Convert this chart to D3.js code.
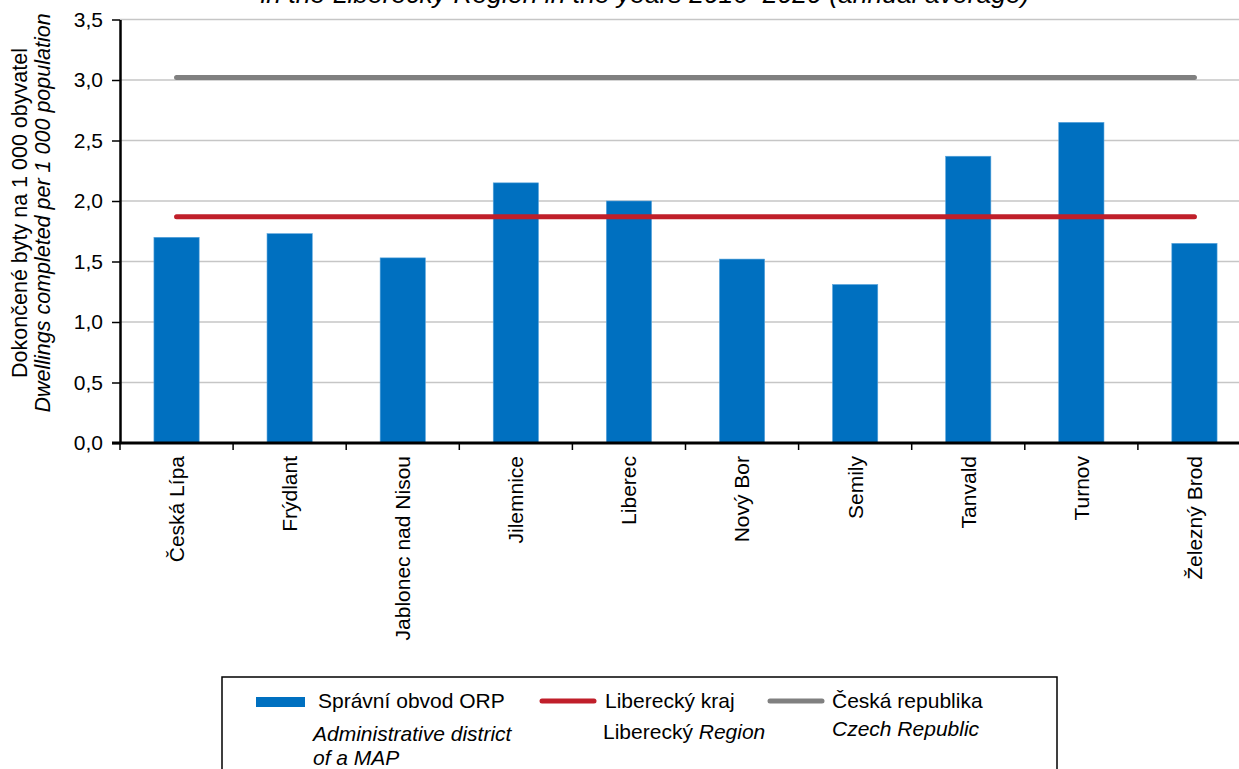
<!DOCTYPE html>
<html>
<head>
<meta charset="utf-8">
<script src="https://cdn.jsdelivr.net/npm/d3@7"></script>
<style>
  body { margin: 0; background: #fff; }
  svg { display: block; font-family: 'Liberation Sans', Arial, sans-serif; }
</style>
</head>
<body>
<div id="chart"></div>
<script>
// Data
const districts = ['Česká Lípa', 'Frýdlant', 'Jablonec nad Nisou', 'Jilemnice', 'Liberec',
  'Nový Bor', 'Semily', 'Tanvald', 'Turnov', 'Železný Brod'];
const dwellings = [1.70, 1.73, 1.53, 2.15, 2.00, 1.52, 1.31, 2.37, 2.65, 1.65];
const regionAvg = 1.87;
const czechAvg = 3.02;
const yTicks = [0, 0.5, 1, 1.5, 2, 2.5, 3, 3.5];

const width = 1239;
const height = 769;
const marginLeft = 120;
const marginTop = 19.5;
const plotBottom = 443;
const stepW = 113.1;

const svg = d3.select('#chart')
  .append('svg')
  .attr('width', width)
  .attr('height', height)
  .attr('viewBox', [0, 0, width, height]);

// Scales
const x = d3.scaleBand()
  .domain(districts)
  .range([marginLeft, marginLeft + stepW * districts.length])
  .paddingInner(0.6)
  .paddingOuter(0.3);

const y = d3.scaleLinear()
  .domain([0, 3.5])
  .range([plotBottom, marginTop]);

const fmt = (v) => d3.format('.1f')(v).replace('.', ',');

// Title (cut off at the top in the original)
svg.append('text')
  .attr('x', 645)
  .attr('y', 3)
  .attr('text-anchor', 'middle')
  .style('font-size', '26.5px')
  .style('font-style', 'italic')
  .text('in the Liberecký Region in the years 2016–2020 (annual average)');

// Gridlines
svg.append('g')
  .selectAll('line')
  .data(yTicks.filter((d) => d > 0))
  .join('line')
  .attr('x1', marginLeft)
  .attr('x2', width)
  .attr('y1', (d) => y(d))
  .attr('y2', (d) => y(d))
  .attr('stroke', '#c6c6c6')
  .attr('stroke-width', 1.5);

// Bars
svg.append('g')
  .selectAll('rect')
  .data(districts)
  .join('rect')
  .attr('x', (d) => x(d))
  .attr('y', (d, i) => y(dwellings[i]))
  .attr('width', x.bandwidth())
  .attr('height', (d, i) => y(0) - y(dwellings[i]))
  .attr('fill', '#0070c0')
  .attr('stroke', '#5aa5dc')
  .attr('stroke-width', 0.6);

// Reference lines
const firstC = x(districts[0]) + x.bandwidth() / 2;
const lastC = x(districts[districts.length - 1]) + x.bandwidth() / 2;
[[czechAvg, '#808080'], [regionAvg, '#c01f2a']].forEach(([v, c]) => {
  svg.append('line')
    .attr('x1', firstC)
    .attr('x2', lastC)
    .attr('y1', y(v))
    .attr('y2', y(v))
    .attr('stroke', c)
    .attr('stroke-width', 5)
    .attr('stroke-linecap', 'round');
});

// Y axis
const yAxis = svg.append('g')
  .attr('transform', 'translate(' + marginLeft + ',0)')
  .call(d3.axisLeft(y).tickValues(yTicks).tickFormat(fmt).tickSize(8).tickSizeOuter(0));
yAxis.select('.domain').attr('stroke', '#000').attr('stroke-width', 2.5);
yAxis.selectAll('.tick line').attr('stroke', '#000').attr('stroke-width', 1.5);
yAxis.selectAll('.tick text')
  .attr('x', -17)
  .style('font-size', '21px')
  .style('font-family', "'Liberation Sans', Arial, sans-serif")
  .attr('fill', '#000');

// X axis
const boundaries = districts.map((d) => x(d) + x.bandwidth() / 2 - x.step() / 2);
boundaries.push(boundaries[boundaries.length - 1] + x.step());
svg.append('line')
  .attr('x1', marginLeft - 8)
  .attr('x2', width)
  .attr('y1', plotBottom)
  .attr('y2', plotBottom)
  .attr('stroke', '#000')
  .attr('stroke-width', 3);
svg.append('g')
  .selectAll('line')
  .data(boundaries)
  .join('line')
  .attr('x1', (d) => d)
  .attr('x2', (d) => d)
  .attr('y1', plotBottom)
  .attr('y2', plotBottom + 7)
  .attr('stroke', '#000')
  .attr('stroke-width', 1.5);

svg.append('g')
  .selectAll('text')
  .data(districts)
  .join('text')
  .attr('transform', (d) => 'translate(' + (x(d) + x.bandwidth() / 2) + ',' + (plotBottom + 13) + ') rotate(-90)')
  .attr('text-anchor', 'end')
  .attr('dy', '0.35em')
  .style('font-size', '21px')
  .text((d) => d);

// Y axis title
const yTitle = svg.append('text')
  .attr('transform', 'translate(0,213) rotate(-90)')
  .attr('text-anchor', 'middle')
  .style('font-size', '21.5px');
yTitle.append('tspan').attr('x', 0).attr('y', 27).text('Dokončené byty na 1 000 obyvatel');
yTitle.append('tspan').attr('x', 0).attr('y', 50).style('font-style', 'italic')
  .text('Dwellings completed per 1 000 population');

// Legend
const legend = svg.append('g');
legend.append('rect')
  .attr('x', 222)
  .attr('y', 677)
  .attr('width', 835)
  .attr('height', 120)
  .attr('fill', '#fff')
  .attr('stroke', '#000')
  .attr('stroke-width', 1.5);

legend.append('rect')
  .attr('x', 256).attr('y', 697).attr('width', 49).attr('height', 10)
  .attr('fill', '#0070c0');
legend.append('line')
  .attr('x1', 542).attr('x2', 594).attr('y1', 701).attr('y2', 701)
  .attr('stroke', '#c01f2a').attr('stroke-width', 5).attr('stroke-linecap', 'round');
legend.append('line')
  .attr('x1', 770).attr('x2', 822).attr('y1', 701).attr('y2', 701)
  .attr('stroke', '#808080').attr('stroke-width', 5).attr('stroke-linecap', 'round');

const lt = (xx, yy, txt, italic) => legend.append('text')
  .attr('x', xx).attr('y', yy)
  .style('font-size', '21px')
  .style('font-style', italic ? 'italic' : 'normal')
  .text(txt);
lt(318, 708, 'Správní obvod ORP', false);
lt(313, 741, 'Administrative district', true);
lt(313, 765, 'of a MAP', true);
lt(605, 708, 'Liberecký kraj', false);
const reg = lt(603, 739, 'Liberecký ', false);
reg.append('tspan').style('font-style', 'italic').text('Region');
lt(832, 708, 'Česká republika', false);
lt(832, 736, 'Czech Republic', true);
</script>
</body>
</html>
